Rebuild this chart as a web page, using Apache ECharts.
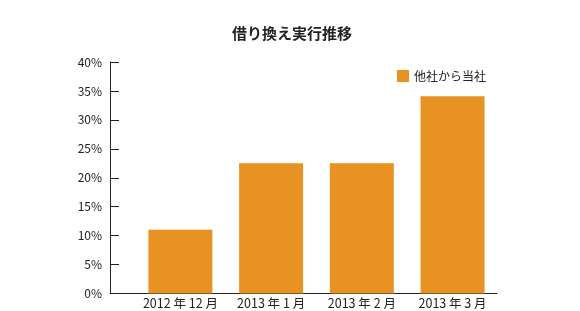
<!DOCTYPE html>
<html><head><meta charset="utf-8">
<script src="https://cdn.jsdelivr.net/npm/echarts@6/dist/echarts.min.js"></script>
<style>html,body{margin:0;padding:0;background:#fff}#c{width:580px;height:311px}</style>
</head><body><div id="c"></div>
<script>
const categories = ['2012 年 12 月', '2013 年 1 月', '2013 年 2 月', '2013 年 3 月'];
const values = [11, 22.5, 22.5, 34.1];
const seriesName = '他社から当社';
const titleText = '借り換え実行推移';
const yTicks = [0, 5, 10, 15, 20, 25, 30, 35, 40];

const positions = categories.map((c, i) => i);
const font = '"Noto Sans CJK JP", "Noto Sans", sans-serif';
const chart = echarts.init(document.getElementById('c'), null, {renderer: 'canvas'});
chart.setOption({
  animation: false,
  title: {text: titleText, left: 287, textAlign: 'center', top: 21,
    textStyle: {fontFamily: font, fontSize: 15, fontWeight: 'bold', color: '#222'}},
  legend: {data: [{name: seriesName, icon: 'rect'}], left: 397, top: 70, padding: 0, itemWidth: 12, itemHeight: 12, itemGap: 6,
    textStyle: {fontFamily: font, fontSize: 12, color: '#222'}},
  grid: {left: 110, right: 83, top: 62, bottom: 17.5, containLabel: false},
  xAxis: {type: 'value', min: -0.776, max: 3.49,
    splitLine: {show: false},
    axisLine: {show: true, onZero: false, lineStyle: {color: '#222', width: 1}},
    axisTick: {show: false},
    axisLabel: {customValues: positions, formatter: v => categories[Math.round(v)],
      fontFamily: font, fontSize: 12.5, color: '#222', margin: 3}},
  yAxis: {type: 'value', min: 0, max: 40, interval: 5,
    splitLine: {show: false},
    axisLine: {show: true, onZero: false, lineStyle: {color: '#222', width: 1}},
    axisTick: {show: true, inside: true, length: 9, lineStyle: {color: '#222'}},
    axisLabel: {customValues: yTicks, formatter: v => v + '%', fontFamily: font, fontSize: 12, color: '#222', margin: 8}},
  series: [{name: seriesName, type: 'bar', barWidth: 64,
    itemStyle: {color: '#E79223'},
    data: values.map((v, i) => [positions[i], v])}]
});
</script></body></html>
